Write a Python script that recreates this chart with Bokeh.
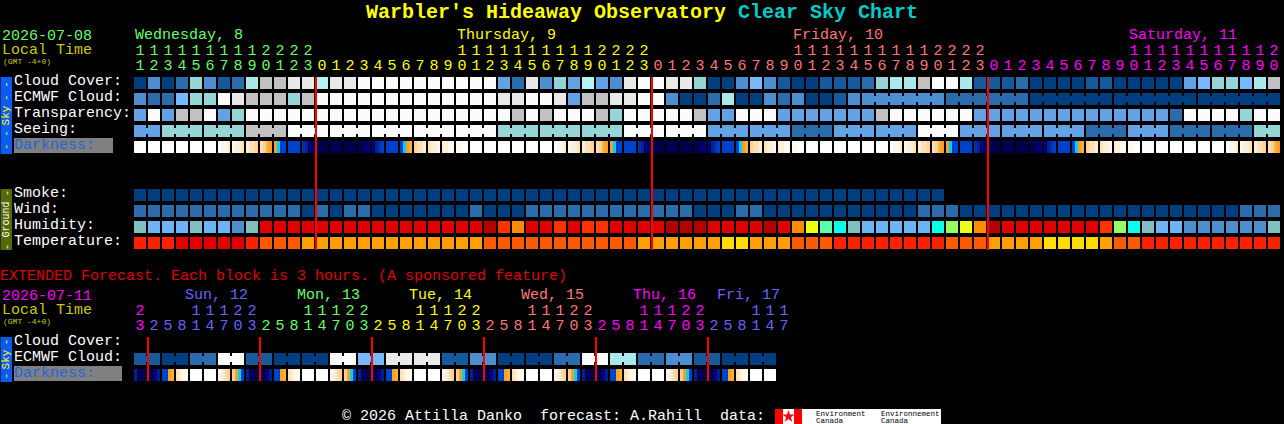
from bokeh.plotting import figure
from bokeh.models import Range1d, ColumnDataSource
from bokeh.core.properties import value
from bokeh.embed import file_html
from bokeh.resources import INLINE
import math

# ---------- data ----------
CLOUD_COVER = [0,3,0,2,6,3,1,2,7,8,8,9,9,11,9,9,10,10,10,10,10,10,10,10,10,10,4,2,9,3,6,4,11,4,3,9,10,10,9,9,6,0,0,3,5,3,1,0,0,1,1,1,2,6,7,7,8,10,10,7,1,1,1,2,0,0,0,0,1,1,0,0,0,0,0,4,5,6,6,5,7,8]
ECMWF_CLOUD = [3,2,2,5,6,6,10,9,8,8,8,6,8,10,10,10,10,10,10,10,10,10,10,10,10,10,9,9,10,10,9,4,8,8,9,9,10,10,3,0,0,2,7,0,0,3,2,3,0,0,1,3,3,3,3,3,3,3,2,2,2,2,2,2,0,0,0,0,0,0,0,0,0,0,0,0,0,0,0,0,0,0]
TRANSPARENCY = [4,10,4,8,8,10,4,6,10,10,10,10,10,10,10,10,10,10,10,10,10,10,10,10,10,10,10,8,10,8,10,10,10,8,6,10,10,10,10,10,8,4,4,10,10,10,4,4,4,4,4,4,4,8,10,10,10,10,10,10,4,4,4,4,4,4,4,4,4,4,4,4,4,4,2,10,10,10,10,6,10,10]
SEEING = [4,4,6,6,6,6,6,6,8,8,8,10,10,10,10,10,10,10,10,10,10,10,10,10,10,10,6,6,6,6,6,6,6,6,6,10,10,10,10,10,10,4,4,4,4,4,4,2,2,2,4,4,4,4,4,4,10,10,10,4,4,4,4,4,4,4,4,4,2,2,2,4,4,4,2,2,2,2,2,2,6,6]
SMOKE = [0]*58
WIND = [2,2,2,2,2,2,2,2,2,2,2,2,0,2,0,2,2,0,0,0,0,0,0,0,2,0,0,0,2,2,2,2,2,2,2,2,2,2,2,2,0,0,0,2,2,0,0,0,0,0,0,0,0,0,0,0,2,2,2,0,0,0,0,0,0,0,0,0,0,0,0,0,0,0,0,0,0,0,0,2,2,2]
HUMIDITY = list("TFFFTFFDT" "RRRRRRRRRRRRRRRR" "XSORRSRSSRRRRXXXRRRRXRO" "YLCT" "FFFFF" "CMYOX" "RRRRRRR" "SMCT" "FF" "DDDDDD" "T")
TEMPERATURE = list("AAARRRRRA" "BBB" "CCCCCCCCCCCCC" "BBBBBBBBBBB" "CCCCCC" "YY" "CCC" "BBB" "AAAAAAAA" "BBB" "CCCC" "YYYY" "C" "BB" "AAAAAAAAAA")
DARK_DAY = ["0000","0000","0000","0000","0000","0000","0aab","abbc","bccd","cdef","fghh","hhhh","ijkl","lmmm","mmmm","mmmm","mmlk","kjih","hhhh","hgfe","dccb","cbba","bbaa","aa00"]
DARKNESS = (DARK_DAY * 4)[:82]
EXT_CLOUD = [1,0,2,10,1,0,0,10,5,9,9,1,3,0,0,2,10,7,2,3,1,0,0]
EXT_DARK_DAY = ["jmmm","mmkj","hhfe","cbaa","0000","0000","abcd","dfgh"]
EXT_DARKNESS = (EXT_DARK_DAY * 6)[:46]

HOURS = [11,12,13,14,15,16,17,18,19,20,21,22,23] + list(range(24)) + list(range(24)) + list(range(21))
HOUR_DAY = [0]*13 + [1]*24 + [2]*24 + [3]*21
DAY_LABELS = ["Wednesday, 8", "Thursday, 9", "Friday, 10", "Saturday, 11"]
DAY_START = [0, 23, 47, 71]
EXT_HOURS = [23] + [2,5,8,11,14,17,20,23]*5 + [2,5,8,11,14,17]
EXT_HOUR_DAY = [0] + [1]*8 + [2]*8 + [3]*8 + [4]*8 + [5]*8 + [6]*6
EXT_DAY_LABELS = ["Sun, 12", "Mon, 13", "Tue, 14", "Wed, 15", "Thu, 16", "Fri, 17"]
EXT_DAY_PX = [185, 297, 409, 521, 633, 717]
MIDNIGHTS = [13, 37, 61]
EXT_MIDNIGHTS = [1, 9, 17, 25, 33, 41]

assert len(CLOUD_COVER)==len(ECMWF_CLOUD)==len(TRANSPARENCY)==len(SEEING)==len(WIND)==len(HUMIDITY)==len(TEMPERATURE)==len(HOURS)==82

# ---------- styles ----------
CLOUD_PAL = {0:"#003f7f",1:"#155a9c",2:"#2b6cad",3:"#4d8ed0",4:"#63a2e4",5:"#77b8ff",6:"#95d5d5",7:"#a9e9e9",8:"#c1c1c1",9:"#e9e9e9",10:"#fbfbfb",11:"#b4f4f4"}
HUM_PAL = {"T":"#80c0c0","F":"#6db3f7","D":"#4d8ed0","R":"#e00000","X":"#b40000","S":"#ff3300","O":"#ff8c00","Y":"#eaff14","L":"#5affb0","C":"#0affe8","M":"#96ff64"}
TEMP_PAL = {"A":"#ff2000","R":"#e40000","B":"#ff5a00","C":"#ff9f00","Y":"#ffdd00"}
DARK_PAL = {"0":"#ffffff","a":"#fff8ee","b":"#ffeed8","c":"#ffe0b8","d":"#ffd090","e":"#ffb040","f":"#ff9f20","g":"#00d0ff","h":"#0040d0","i":"#0030b0","j":"#002090","k":"#000080","l":"#000060","m":"#000050"}
DAY_COLORS = ["#66ff66", "#ffff00", "#ff7777", "#ff00ff"]
EXT_DAY_COLORS = ["#ff00ff", "#6666ff", "#66ff66", "#ffff00", "#ff7777", "#ff00ff", "#6666ff"]
MONO = value("Liberation Mono")

PITCH = 14.0
X0 = 134.0
CELL = 12 / PITCH
BASE = 0.33  # vertical correction of the alphabetic baseline, in em

def xpx(px):
    return (px - X0) / PITCH

p = figure(width=1284, height=424, output_backend="svg", toolbar_location=None,
           x_range=Range1d(xpx(0.5), xpx(1284.5)), y_range=Range1d(424.5, 0.5),
           min_border=0, background_fill_color="#000000", border_fill_color="#000000",
           outline_line_color=None,
           styles={"position": "fixed", "left": "0px", "top": "0px", "background": "#000000"})
p.axis.visible = False
p.grid.visible = False

def cells(values, pal, top, span=1):
    L, R, C = [], [], []
    for i, v in enumerate(values):
        L.append(i * span); R.append(i * span + CELL); C.append(pal[v])
    p.quad(left=L, right=R, top=top, bottom=top + 12, fill_color=C, line_color=None)

def strips(values, top):
    # painted left to right, each strip running to the cell's end, so no seams show
    L, R, C = [], [], []
    for i, code in enumerate(values):
        for j, ch in enumerate(code):
            L.append(i + j * CELL / 4); R.append(i + CELL); C.append(DARK_PAL[ch])
    p.quad(left=L, right=R, top=top, bottom=top + 12, fill_color=C, line_color=None)

def bridges(idx, values, pal, top):
    L = [i + CELL for i in idx]
    R = [i + 1 for i in idx]
    C = [pal[values[i]] for i in idx]
    p.quad(left=L, right=R, top=top + 3, bottom=top + 9, fill_color=C, line_color=None)

def txt(x, y, s, color, size=15, bold=False, align="left", angle=0):
    if angle:
        x = x - BASE * size / PITCH
    else:
        y = y - BASE * size
    p.text(x=[x], y=[y], text=[s], text_color=color, text_font=MONO,
           text_font_size=value(f"{size}px"), text_font_style="bold" if bold else "normal",
           text_align=align, text_baseline="alphabetic", angle=angle)

def bar(left, right, top, bottom, color):
    p.quad(left=xpx(left), right=xpx(right), top=top, bottom=bottom, fill_color=color, line_color=None)

# main grid
cells(CLOUD_COVER, CLOUD_PAL, 77)
cells(ECMWF_CLOUD, CLOUD_PAL, 93)
bridges([i for i in range(52, 81) if (i - 52) % 6 != 5], ECMWF_CLOUD, CLOUD_PAL, 93)
cells(TRANSPARENCY, CLOUD_PAL, 109)
cells(SEEING, CLOUD_PAL, 125)
bridges([i for i in range(0, 81) if (i - 2) % 3 != 2], SEEING, CLOUD_PAL, 125)
strips(DARKNESS, 141)
cells(SMOKE, CLOUD_PAL, 189)
cells(WIND, CLOUD_PAL, 205)
cells(HUMIDITY, HUM_PAL, 221)
cells(TEMPERATURE, TEMP_PAL, 237)

# extended grid: each block spans two columns
cells(EXT_CLOUD, CLOUD_PAL, 353, span=2)
p.quad(left=[2 * i + CELL for i in range(len(EXT_CLOUD))], right=[2 * i + 1 for i in range(len(EXT_CLOUD))],
       top=356, bottom=362, fill_color=[CLOUD_PAL[v] for v in EXT_CLOUD], line_color=None)
p.quad(left=[2 * i + 1 for i in range(len(EXT_CLOUD))], right=[2 * i + 1 + CELL for i in range(len(EXT_CLOUD))],
       top=353, bottom=365, fill_color=[CLOUD_PAL[v] for v in EXT_CLOUD], line_color=None)
strips(EXT_DARKNESS, 369)

# midnight markers
p.quad(left=[m - 1 / PITCH for m in MIDNIGHTS], right=[m + 1 / PITCH for m in MIDNIGHTS],
       top=77, bottom=250, fill_color="#ff0000", line_color=None)
p.quad(left=[m - 1 / PITCH for m in EXT_MIDNIGHTS], right=[m + 1 / PITCH for m in EXT_MIDNIGHTS],
       top=337, bottom=381, fill_color="#ff0000", line_color=None)

# title
txt(xpx(366), 19, "Warbler's Hideaway Observatory", "#ffff00", 20, True)
txt(xpx(738), 19, "Clear Sky Chart", "#00cccc", 20, True)

# header left
txt(xpx(2), 40, "2026-07-08", "#66ff66")
txt(xpx(2), 55, "Local Time", "#cccc00")
txt(xpx(3), 64, "(GMT -4+0)", "#cccc00", 8)
for lab, s, c in zip(DAY_LABELS, DAY_START, DAY_COLORS):
    txt(s + 1 / PITCH, 40, lab, c)

def digits(hours, days, pal, y_tens, y_ones):
    xs, ys, ts, cs = [], [], [], []
    for i, (h, d) in enumerate(zip(hours, days)):
        if h >= 10:
            xs.append(i + CELL / 2); ys.append(y_tens - BASE * 15); ts.append(str(h // 10)); cs.append(pal[d])
        xs.append(i + CELL / 2); ys.append(y_ones - BASE * 15); ts.append(str(h % 10)); cs.append(pal[d])
    p.text(x="x", y="y", text="t", text_color="c", text_font=MONO, text_font_size=value("15px"),
           text_align="center", text_baseline="alphabetic",
           source=ColumnDataSource(dict(x=xs, y=ys, t=ts, c=cs)))

digits(HOURS, HOUR_DAY, DAY_COLORS, 55, 70)
digits(EXT_HOURS, EXT_HOUR_DAY, EXT_DAY_COLORS, 315, 330)

# row labels
for y, s in [(86, "Cloud Cover:"), (102, "ECMWF Cloud:"), (118, "Transparency:"), (134, "Seeing:"),
             (198, "Smoke:"), (214, "Wind:"), (230, "Humidity:"), (246, "Temperature:"),
             (346, "Cloud Cover:"), (362, "ECMWF Cloud:")]:
    txt(xpx(14), y, s, "#ffffff")
bar(14, 113, 138, 153, "#808080")
txt(xpx(14), 150, "Darkness:", "#2266dd")
bar(14, 122, 366, 381, "#808080")
txt(xpx(14), 378, "Darkness:", "#2266dd")

# side bands
bar(0, 12, 77, 154, "#0a5cf0")
for y, s in [(91, "- -"), (115.5, "Sky"), (140, "- -")]:
    txt(xpx(9.5), y, s, "#ffff00", 11, align="center", angle=math.pi / 2)
bar(0, 12, 189, 250, "#556b0a")
for y, s in [(193, "-"), (219.5, "Ground"), (247, "-")]:
    txt(xpx(9.5), y, s, "#ffffff", 10, align="center", angle=math.pi / 2)
bar(0, 12, 337, 382, "#0a5cf0")
for y, s in [(342, "-"), (359.5, "Sky"), (376, "-")]:
    txt(xpx(9.5), y, s, "#ffff00", 11, align="center", angle=math.pi / 2)

# extended header
txt(xpx(0), 281, "EXTENDED Forecast. Each block is 3 hours. (A sponsored feature)", "#e00000")
txt(xpx(2), 300, "2026-07-11", "#ff00ff")
txt(xpx(2), 315, "Local Time", "#cccc00")
txt(xpx(3), 324, "(GMT -4+0)", "#cccc00", 8)
for lab, x, c in zip(EXT_DAY_LABELS, EXT_DAY_PX, EXT_DAY_COLORS[1:]):
    txt(xpx(x), 300, lab, c)

# footer
txt(xpx(342), 421, "\u00a9 2026 Attilla Danko", "#ffffff")
txt(xpx(540), 421, "forecast: A.Rahill", "#ffffff")
txt(xpx(720), 421, "data:", "#ffffff")
bar(775, 941, 409, 424, "#ffffff")
bar(775, 783, 409, 424, "#ff0000")
bar(794, 802, 409, 424, "#ff0000")
p.scatter(x=[xpx(788.5)], y=[416.5], marker="star", size=13, fill_color="#ff0000", line_color=None)
txt(xpx(816), 416, "Environment", "#000000", 7.5)
txt(xpx(816), 423, "Canada", "#000000", 7.5)
txt(xpx(881), 416, "Environnement", "#000000", 7.5)
txt(xpx(881), 423, "Canada", "#000000", 7.5)

open("out.html", "w").write(file_html(p, INLINE))
